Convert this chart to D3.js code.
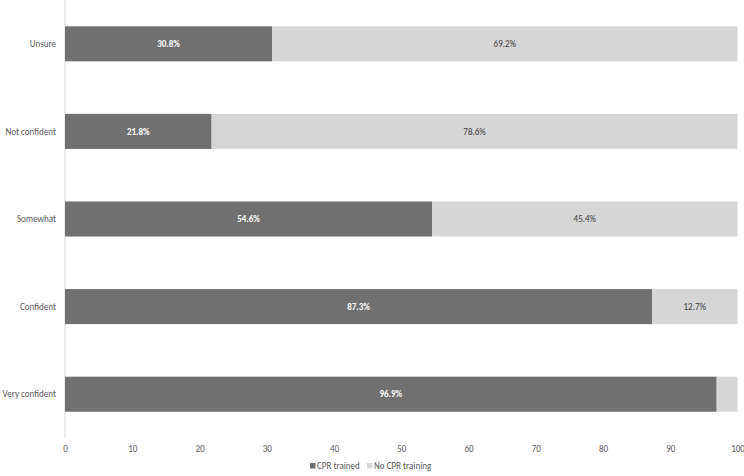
<!DOCTYPE html>
<html><head><meta charset="utf-8">
<script src="https://cdn.jsdelivr.net/npm/d3@7"></script>
<style>body{margin:0;background:#fff;} text{font-family:Carlito,Calibri,Lato,sans-serif;}</style>
</head><body>
<svg id="c" width="744" height="476"></svg>
<script>
const categories = ["Unsure","Not confident","Somewhat","Confident","Very confident"];
const cprTrained = [30.8, 21.8, 54.6, 87.3, 96.9];
const noCpr = [69.2, 78.6, 45.4, 12.7, 3.1];
const noCprLabels = ["69.2%","78.6%","45.4%","12.7%",""];
const cprLabels = ["30.8%","21.8%","54.6%","87.3%","96.9%"];
const xTicks = [0,10,20,30,40,50,60,70,80,90,100];
const seriesNames = ["CPR trained","No CPR training"];
const colors = ["#707070","#d6d6d6"];

(function(){
const svg = d3.select("#c");
const probe = svg.append("text").attr("font-size",10).text("Very confident");
const len = probe.node().getComputedTextLength();
probe.remove();
const FS = Math.min(9.5, 10*53.5/len);

const mLeft = 65, mRight = 737.5, mTop = 0, mBottom = 438;
const x = d3.scaleLinear().domain([0,100]).range([mLeft,mRight]).clamp(true);
const y = d3.scaleBand().domain(categories).range([mTop,mBottom]).paddingInner(0.6).paddingOuter(0.3);

const rows = categories.map((c,i)=>({c, a:cprTrained[i], b:noCpr[i], la:cprLabels[i], lb:noCprLabels[i]}));

svg.append("line").attr("x1",mLeft).attr("x2",mLeft).attr("y1",mTop).attr("y2",mBottom)
  .attr("stroke","#d9d9d9").attr("stroke-width",1);

const g = svg.append("g");
g.selectAll("rect.a").data(rows).join("rect").attr("class","a")
  .attr("x",x(0)).attr("y",d=>y(d.c)).attr("width",d=>x(d.a)-x(0)).attr("height",y.bandwidth())
  .attr("fill",colors[0]);
g.selectAll("rect.b").data(rows).join("rect").attr("class","b")
  .attr("x",d=>x(d.a)).attr("y",d=>y(d.c)).attr("width",d=>x(d.a+d.b)-x(d.a)).attr("height",y.bandwidth())
  .attr("fill",colors[1]);

g.selectAll("text.la").data(rows).join("text").attr("class","la")
  .attr("x",d=>(x(0)+x(d.a))/2).attr("y",d=>y(d.c)+y.bandwidth()/2).attr("dy","0.35em")
  .attr("text-anchor","middle").attr("fill","#fff").attr("font-weight","bold").attr("font-size",FS)
  .text(d=>d.la);
g.selectAll("text.lb").data(rows).join("text").attr("class","lb")
  .attr("x",d=>(x(d.a)+x(d.a+d.b))/2).attr("y",d=>y(d.c)+y.bandwidth()/2).attr("dy","0.35em")
  .attr("text-anchor","middle").attr("fill","#404040").attr("font-size",FS)
  .text(d=>d.lb);

svg.append("g").selectAll("text").data(categories).join("text")
  .attr("x",56).attr("y",d=>y(d)+y.bandwidth()/2).attr("dy","0.35em")
  .attr("text-anchor","end").attr("fill","#595959").attr("font-size",FS).text(d=>d);

const xa = svg.append("g").attr("transform",`translate(0,${mBottom})`)
  .call(d3.axisBottom(x).tickValues(xTicks).tickSize(0).tickPadding(8).tickFormat(d3.format("d")));
xa.select(".domain").remove();
xa.selectAll("text").attr("fill","#595959").attr("font-size",FS).attr("font-family",null);

const legendX = [310, 367];
const lg = svg.append("g");
seriesNames.forEach((s,i)=>{
  lg.append("rect").attr("x",legendX[i]).attr("y",463).attr("width",5.5).attr("height",5.5).attr("fill",colors[i]);
  lg.append("text").attr("x",legendX[i]+7).attr("y",466).attr("dy","0.35em").attr("fill","#595959")
    .attr("font-size",FS).text(s);
});
})();
</script>
</body></html>
